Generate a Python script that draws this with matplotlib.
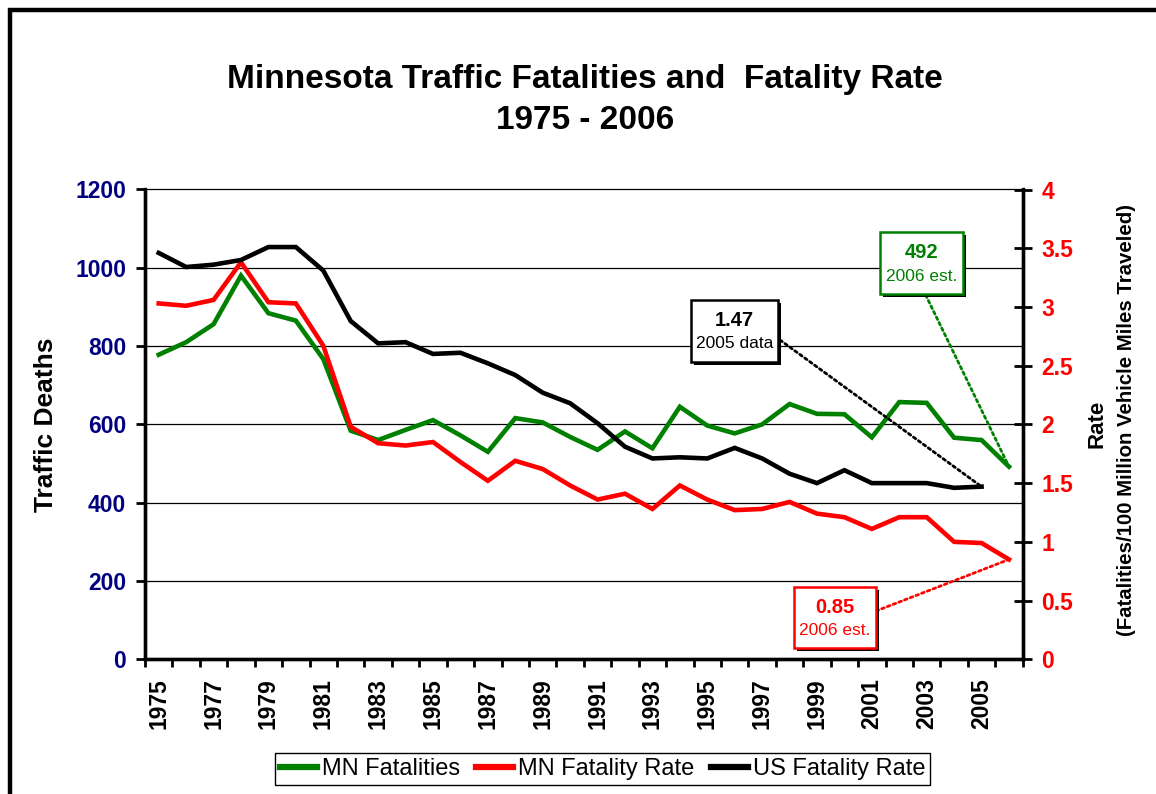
import numpy as np
import matplotlib
matplotlib.use("Agg")
import matplotlib.pyplot as plt
from matplotlib.patches import Rectangle
from matplotlib.lines import Line2D

plt.rcParams['font.family'] = ['Liberation Sans', 'DejaVu Sans']

# data
years = list(range(1975, 2007))
mn_fatalities = [778, 810, 856, 980, 884, 865, 767, 584, 560, 586,
                 611, 572, 530, 616, 605, 568, 535, 582, 539, 645,
                 597, 577, 600, 652, 627, 626, 567, 657, 655, 566,
                 560, 492]
mn_rate = [3.03, 3.01, 3.06, 3.38, 3.04, 3.03, 2.67, 1.98, 1.84, 1.82,
           1.85, 1.68, 1.52, 1.69, 1.62, 1.48, 1.36, 1.41, 1.28, 1.48,
           1.36, 1.27, 1.28, 1.34, 1.24, 1.21, 1.11, 1.21, 1.21, 1.00,
           0.99, 0.85]
us_rate = [3.46, 3.34, 3.36, 3.40, 3.51, 3.51, 3.31, 2.88, 2.69, 2.70,
           2.60, 2.61, 2.52, 2.42, 2.27, 2.18, 2.01, 1.81, 1.71, 1.72,
           1.71, 1.80, 1.71, 1.58, 1.50, 1.61, 1.50, 1.50, 1.50, 1.46,
           1.47, np.nan]
left_ticks = [0, 200, 400, 600, 800, 1000, 1200]
right_ticks = [0, 0.5, 1, 1.5, 2, 2.5, 3, 3.5, 4]

GREEN = '#008000'
RED = '#ff0000'
NAVY = '#000080'

W, H = 1156, 794


def fx(x):
    return x / W


def fy(y):
    return 1 - y / H


fig = plt.figure(figsize=(W / 100, H / 100), dpi=100)

# outer frame (only left and top edges fall inside the image)
fig.add_artist(Rectangle((fx(9.5), fy(1200)), 2, fy(10) - fy(1200),
                         transform=fig.transFigure, fill=False,
                         edgecolor='black', lw=3.2))

ax = fig.add_axes([fx(145), fy(659.3), fx(1022.7) - fx(145), fy(189.5) - fy(659.3)])
ax2 = ax.twinx()

x = np.arange(len(years))
ax.plot(x, mn_fatalities, color=GREEN, lw=3.3, solid_joinstyle='miter', zorder=3)
ax2.plot(x, mn_rate, color=RED, lw=3.3, solid_joinstyle='miter', zorder=3)
ax2.plot(x, us_rate, color='black', lw=3.3, solid_joinstyle='miter', zorder=4)

ax.set_xlim(-0.5, len(years) - 0.5)
ax.set_ylim(0, 1200)
ax2.set_ylim(0, 4)

ax.set_yticks(left_ticks)
ax.set_yticklabels([str(v) for v in left_ticks])
ax2.set_yticks(right_ticks)
ax2.set_yticklabels([f"{v:g}" for v in right_ticks])

ax.yaxis.grid(True, color='black', lw=0.9)
ax.set_axisbelow(True)
for gl in ax.get_ygridlines():
    gl.set_clip_on(False)

ax.set_xticks(x[::2])
ax.set_xticklabels([str(y) for y in years[::2]], rotation=90,
                   fontsize=16.5, fontweight='bold')
ax.set_xticks(np.arange(-0.5, len(years)), minor=True)
ax.tick_params(axis='x', which='major', length=0, pad=13.5)
ax.tick_params(axis='x', which='minor', length=6, width=2, direction='out')

ax.tick_params(axis='y', length=6.5, width=2, direction='out', pad=7,
               labelsize=16.5, labelcolor=NAVY)
for lab in ax.get_yticklabels():
    lab.set_fontweight('bold')
ax2.tick_params(axis='y', length=13, width=2, direction='inout', pad=7,
                labelsize=16.5, labelcolor=RED)
for lab in ax2.get_yticklabels():
    lab.set_fontweight('bold')

for a in (ax, ax2):
    a.spines['top'].set_visible(False)
    for s in ('left', 'right', 'bottom'):
        a.spines[s].set_linewidth(2.4)

# titles and axis labels
fig.text(fx(585), fy(88), "Minnesota Traffic Fatalities and  Fatality Rate",
         ha='center', va='baseline', fontsize=24, fontweight='bold')
fig.text(fx(585), fy(129), "1975 - 2006",
         ha='center', va='baseline', fontsize=24, fontweight='bold')
fig.text(fx(46), fy(425), "Traffic Deaths", rotation=90, ha='center', va='center',
         fontsize=19, fontweight='bold')
fig.text(fx(1097), fy(424), "Rate", rotation=90, ha='center', va='center',
         fontsize=16, fontweight='bold')
fig.text(fx(1127), fy(419.5), "(Fatalities/100 Million Vehicle Miles Traveled)",
         rotation=90, ha='center', va='center', fontsize=14.7, fontweight='bold')


def note_box(x0, y0, x1, y1, color, big, small):
    w = fx(x1) - fx(x0)
    h = fy(y0) - fy(y1)
    fig.add_artist(Rectangle((fx(x0 + 3), fy(y1 + 3)), w, h, transform=fig.transFigure,
                             facecolor='black', edgecolor='none', zorder=5))
    fig.add_artist(Rectangle((fx(x0), fy(y1)), w, h, transform=fig.transFigure,
                             facecolor='white', edgecolor=color, lw=1.8, zorder=6))
    cx = (x0 + x1) / 2
    fig.text(fx(cx), fy(y0 + (y1 - y0) * 0.34), big, ha='center', va='center',
             fontsize=14.5, fontweight='bold', color=color, zorder=7)
    fig.text(fx(cx), fy(y0 + (y1 - y0) * 0.71), small, ha='center', va='center',
             fontsize=12.5, color=color, zorder=7)


note_box(690.7, 299.5, 778.3, 361.5, 'black', "1.47", "2005 data")
note_box(880, 231.7, 963.3, 294.3, GREEN, "492", "2006 est.")
note_box(794.3, 586.7, 876, 648.3, RED, "0.85", "2006 est.")

# dotted leader lines from the boxes to the points
dots = dict(arrowstyle='-', linestyle=(0, (1, 1.2)), lw=2, shrinkA=0, shrinkB=0)
ax2.annotate('', xy=(30, us_rate[30]), xytext=(780, H - 340), textcoords='figure pixels',
             arrowprops=dict(color='black', **dots))
ax.annotate('', xy=(31, mn_fatalities[31]), xytext=(925.7, H - 295),
            textcoords='figure pixels', arrowprops=dict(color=GREEN, **dots))
ax2.annotate('', xy=(31, mn_rate[31]), xytext=(876, H - 611), textcoords='figure pixels',
             arrowprops=dict(color=RED, **dots))

handles = [Line2D([], [], color=GREEN, lw=4.5),
           Line2D([], [], color=RED, lw=4.5),
           Line2D([], [], color='black', lw=4.5)]
leg = fig.legend(handles, ["MN Fatalities", "MN Fatality Rate", "US Fatality Rate"],
                 loc='center', bbox_to_anchor=(fx(602.5), fy(769)), ncol=3,
                 fontsize=17, frameon=True, fancybox=False, framealpha=1,
                 edgecolor='black', handlelength=1.57, handletextpad=0.2,
                 columnspacing=0.7, borderpad=0.2, borderaxespad=0)
leg.get_frame().set_linewidth(1.0)

fig.savefig('out.png', dpi=100)
